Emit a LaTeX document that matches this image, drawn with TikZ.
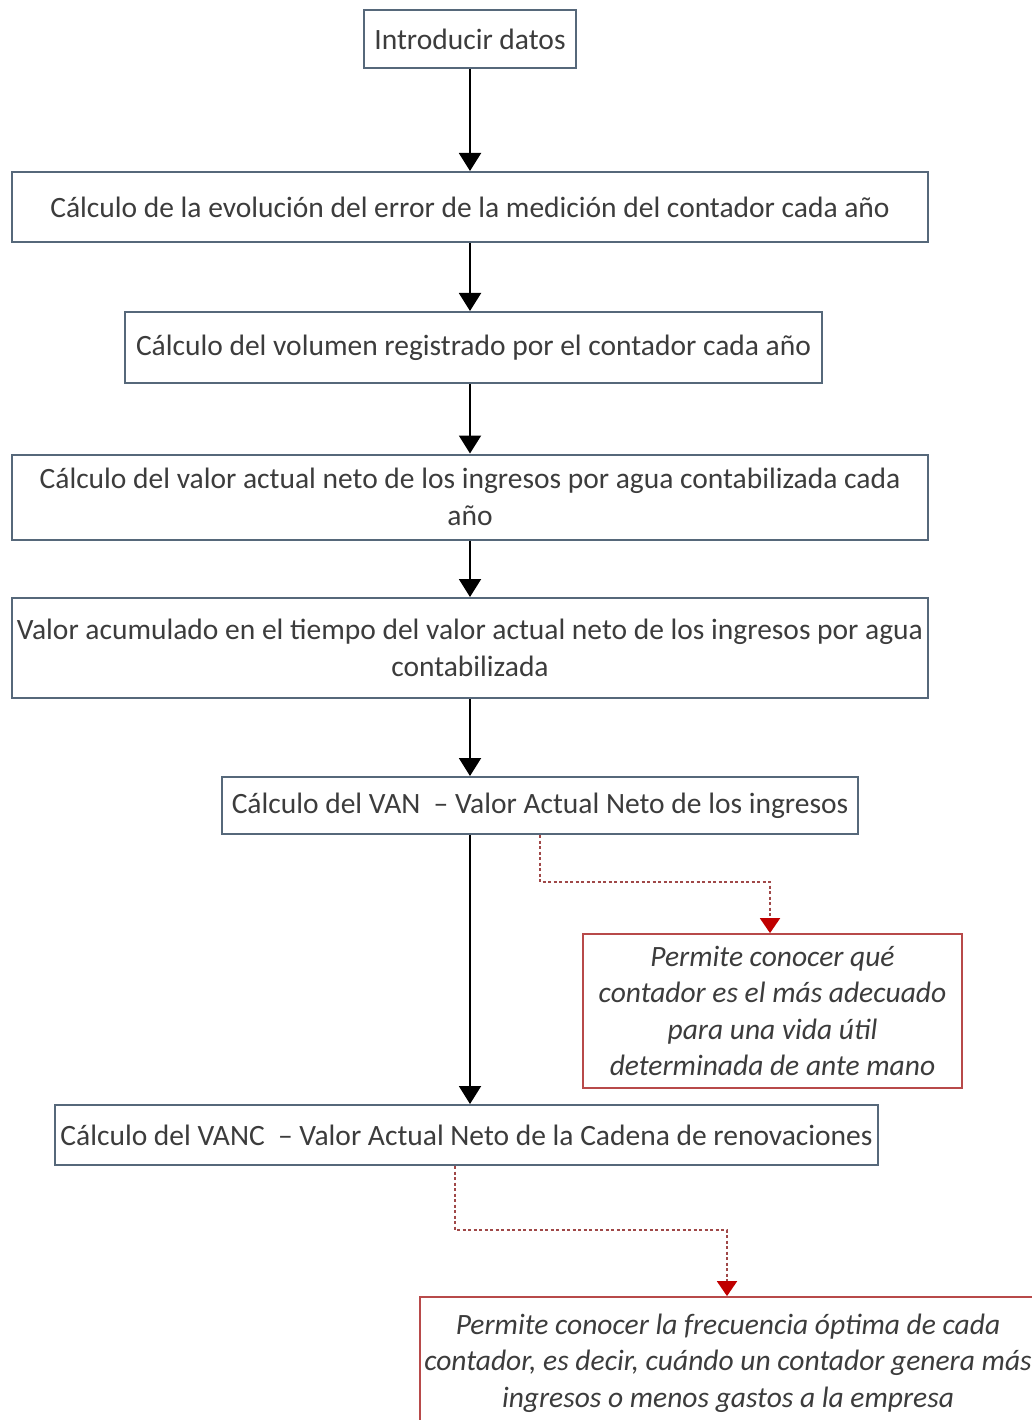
\documentclass[tikz,border=0pt]{standalone}
\usepackage{fontspec}
\setmainfont{Carlito}
\usetikzlibrary{arrows.meta}
\definecolor{boxline}{HTML}{56687A}
\definecolor{txt}{HTML}{3C3C3C}
\definecolor{noteline}{HTML}{B84A4A}
\definecolor{notelink}{HTML}{A04848}
\definecolor{notetip}{HTML}{C00000}
\begin{document}
\begin{tikzpicture}[x=1pt,y=-1pt,
  stepbox/.style={draw=boxline,line width=2pt,fill=white,text=txt,align=center,
    inner sep=0pt,font=\fontsize{29.5}{37}\selectfont},
  notebox/.style={draw=noteline,line width=1.8pt,fill=white,text=txt,align=center,
    inner sep=0pt,font=\fontsize{29.5}{36.5}\selectfont\itshape},
  flow/.style={line width=2pt,black,-{Triangle[width=22pt,length=18pt]}},
  notearrow/.style={line width=2pt,notelink,dash pattern=on 3pt off 2.5pt,
    -{Triangle[width=20pt,length=15pt,fill=notetip,color=notetip]}}]
\useasboundingbox (0,0) rectangle (1032,1420);
\clip (0,0) rectangle (1032,1420);

\node[stepbox,minimum width=212pt,minimum height=58pt] (b1) at (470,39) {Introducir datos};
\node[stepbox,minimum width=916pt,minimum height=70pt] (b2) at (470,207)
  {Cálculo de la evolución del error de la medición del contador cada año};
\node[stepbox,minimum width=697pt,minimum height=71pt] (b3) at (473.5,347.5)
  {Cálculo del volumen registrado por el contador cada año};
\node[stepbox,minimum width=916pt,minimum height=85pt] (b4) at (470,497)
  {Cálculo del valor actual neto de los ingresos por agua contabilizada cada\\año};
\node[stepbox,minimum width=916pt,minimum height=100pt] (b5) at (470,648)
  {Valor acumulado en el tiempo del valor actual neto de los ingresos por agua\\contabilizada};
\node[stepbox,minimum width=636pt,minimum height=57pt] (b6) at (540,805.5)
  {Cálculo del VAN\ \ – Valor Actual Neto de los ingresos};
\node[stepbox,minimum width=823pt,minimum height=60pt] (b7) at (466.5,1135)
  {Cálculo del VANC\ \ – Valor Actual Neto de la Cadena de renovaciones};

\node[notebox,minimum width=379pt,minimum height=154pt] (n1) at (772.5,1011)
  {Permite conocer qué\\contador es el más adecuado\\para una vida útil\\determinada de ante mano};
\node[notebox,minimum width=616pt,minimum height=132pt] (n2) at (728,1363)
  {Permite conocer la frecuencia óptima de cada\\contador, es decir, cuándo un contador genera más\\ingresos o menos gastos a la empresa};

% main flow
\draw[flow] (b1.south -| b1) -- (b2.north -| b1);
\draw[flow] (b2.south -| b1) -- (b3.north -| b1);
\draw[flow] (b3.south -| b1) -- (b4.north -| b1);
\draw[flow] (b4.south -| b1) -- (b5.north -| b1);
\draw[flow] (b5.south -| b1) -- (b6.north -| b1);
\draw[flow] (b6.south -| b1) -- (b7.north -| b1);

% explanatory notes
\coordinate (k1) at (540,882);
\coordinate (k2) at (455,1230);
\draw[notearrow] (b6.south -| k1) -- (k1) -| (n1.north -| 770,0);
\draw[notearrow] (b7.south -| k2) -- (k2) -| (n2.north -| 727,0);
\end{tikzpicture}
\end{document}
